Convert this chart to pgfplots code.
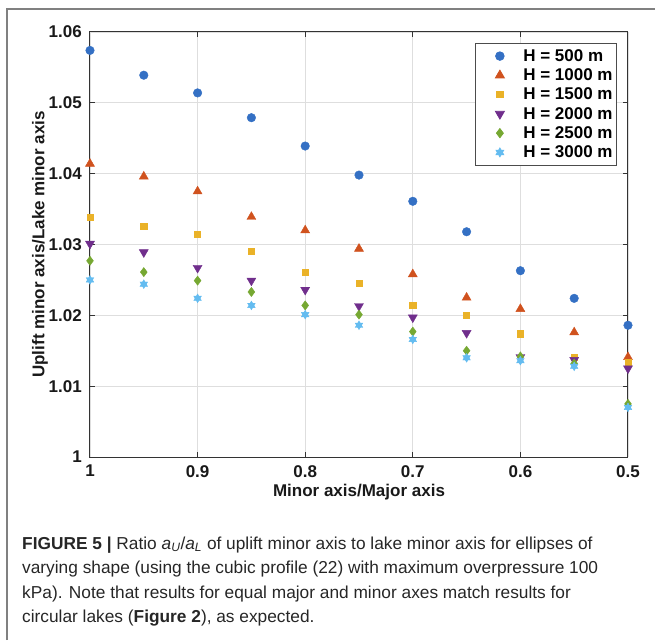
\documentclass[border=0pt]{standalone}
\usepackage{fontspec}
\setmainfont{Liberation Sans}
\usepackage{pgfplots}
\pgfplotsset{compat=1.18}
\definecolor{cA}{RGB}{52,112,196}
\definecolor{cB}{RGB}{208,82,30}
\definecolor{cC}{RGB}{234,178,40}
\definecolor{cD}{RGB}{112,46,140}
\definecolor{cE}{RGB}{118,168,50}
\definecolor{cF}{RGB}{100,188,240}
\pgfdeclareplotmark{hexagram}{%
  \pgfpathmoveto{\pgfqpoint{0pt}{\pgfplotmarksize}}%
  \pgfpathlineto{\pgfqpoint{-0.866\pgfplotmarksize}{-0.5\pgfplotmarksize}}%
  \pgfpathlineto{\pgfqpoint{0.866\pgfplotmarksize}{-0.5\pgfplotmarksize}}%
  \pgfpathclose
  \pgfpathmoveto{\pgfqpoint{0pt}{-\pgfplotmarksize}}%
  \pgfpathlineto{\pgfqpoint{0.866\pgfplotmarksize}{0.5\pgfplotmarksize}}%
  \pgfpathlineto{\pgfqpoint{-0.866\pgfplotmarksize}{0.5\pgfplotmarksize}}%
  \pgfpathclose
  \pgfusepathqfillstroke
}
\begin{document}
\begin{tikzpicture}[x=1pt,y=1pt]
\useasboundingbox (0,0) rectangle (655,640);
\draw[black!50, line width=1.5pt] (7,0) -- (7,631) -- (656,631);
\begin{axis}[
  at={(90pt,183pt)}, anchor=south west,
  scale only axis, width=538pt, height=425pt,
  x dir=reverse,
  xmin=0.5, xmax=1, ymin=1, ymax=1.06,
  xtick={0.5,0.6,0.7,0.8,0.9,1},
  ytick={1,1.01,1.02,1.03,1.04,1.05,1.06},
  scaled ticks=false,
  /pgf/number format/.cd, fixed, precision=2, assume math mode=true, /pgfplots/.cd,
  tick label style={font=\bfseries\fontsize{17}{20}\selectfont, text=black!90},
  yticklabel style={inner sep=0pt, xshift=-8pt},
  xticklabel style={inner sep=0pt, yshift=-8pt},
  grid=major, grid style={black!13, line width=0.8pt},
  axis line style={black!80, line width=1pt},
  tick style={black!80, line width=1pt},
  major tick length=5.4pt, tick align=inside,
  clip=false,
  xlabel={Minor axis/Major axis},
  ylabel={Uplift minor axis/Lake minor axis},
  label style={font=\bfseries\fontsize{17}{20}\selectfont, text=black!90},
  xlabel style={at={(axis description cs:0.5,-0.082)}, anchor=center},
  ylabel style={at={(axis description cs:-0.093,0.5)}, anchor=center, rotate=0},
  legend style={at={(1,1)}, anchor=north east, xshift=-11pt, yshift=-11pt,
    draw=black!70, line width=0.8pt,
    font=\bfseries\fontsize{17}{20}\selectfont,
    inner xsep=2pt, inner ysep=4pt, row sep=1.9pt,
    nodes={inner sep=2pt}},
  legend cell align=left,
  legend image code/.code={\path (0pt,-5pt) (43pt,5pt); \draw[#1] plot coordinates {(22pt,0pt)};},
]
\addplot[only marks, color=cA, mark=*, mark size=4.3pt] coordinates {
(1,1.0574) (0.95,1.0539) (0.9,1.0514) (0.85,1.0479) (0.8,1.0439) (0.75,1.0398)
(0.7,1.0361) (0.65,1.0318) (0.6,1.0263) (0.55,1.0224) (0.5,1.0186)};
\addlegendentry{H = 500 m}
\addplot[only marks, color=cB, mark=triangle*, mark size=5.2pt] coordinates {
(1,1.0414) (0.95,1.0396) (0.9,1.0375) (0.85,1.0339) (0.8,1.0320) (0.75,1.0294)
(0.7,1.0258) (0.65,1.0225) (0.6,1.0209) (0.55,1.0176) (0.5,1.0141)};
\addlegendentry{H = 1000 m}
\addplot[only marks, color=cC, mark=square*, mark size=3.1pt] coordinates {
(1,1.0338) (0.95,1.0326) (0.9,1.0314) (0.85,1.0291) (0.8,1.0261) (0.75,1.0245)
(0.7,1.0214) (0.65,1.0200) (0.6,1.0174) (0.55,1.0141) (0.5,1.0134)};
\addlegendentry{H = 1500 m}
\addplot[only marks, color=cD, mark=triangle*, mark size=5.2pt, mark options={rotate=180}] coordinates {
(1,1.0301) (0.95,1.0289) (0.9,1.0267) (0.85,1.0249) (0.8,1.0236) (0.75,1.0213)
(0.7,1.0197) (0.65,1.0175) (0.6,1.0141) (0.55,1.0137) (0.5,1.0125)};
\addlegendentry{H = 2000 m}
\addplot[only marks, color=cE, mark=diamond*, mark size=4.6pt] coordinates {
(1,1.0277) (0.95,1.0261) (0.9,1.0249) (0.85,1.0233) (0.8,1.0214) (0.75,1.0201)
(0.7,1.0177) (0.65,1.0150) (0.6,1.0142) (0.55,1.0132) (0.5,1.0075)};
\addlegendentry{H = 2500 m}
\addplot[only marks, color=cF, mark=hexagram, mark size=4.4pt] coordinates {
(1,1.0250) (0.95,1.0244) (0.9,1.0224) (0.85,1.0214) (0.8,1.0201) (0.75,1.0186)
(0.7,1.0166) (0.65,1.0140) (0.6,1.0136) (0.55,1.0128) (0.5,1.0070)};
\addlegendentry{H = 3000 m}
\end{axis}
\begin{scope}[every node/.style={anchor=base west, inner sep=0pt, text=black!85, font=\fontsize{17.3}{24}\selectfont}]
\node at (22,91) {\textbf{FIGURE 5 |} Ratio \textit{a}\textsubscript{\textit{U}}/\textit{a}\textsubscript{\textit{L}} of uplift minor axis to lake minor axis for ellipses of};
\node at (22,67) {varying shape (using the cubic profile (22) with maximum overpressure 100};
\node at (22,42) {kPa). Note that results for equal major and minor axes match results for};
\node at (22,18) {circular lakes (\textbf{Figure 2}), as expected.};
\end{scope}
\end{tikzpicture}
\end{document}
